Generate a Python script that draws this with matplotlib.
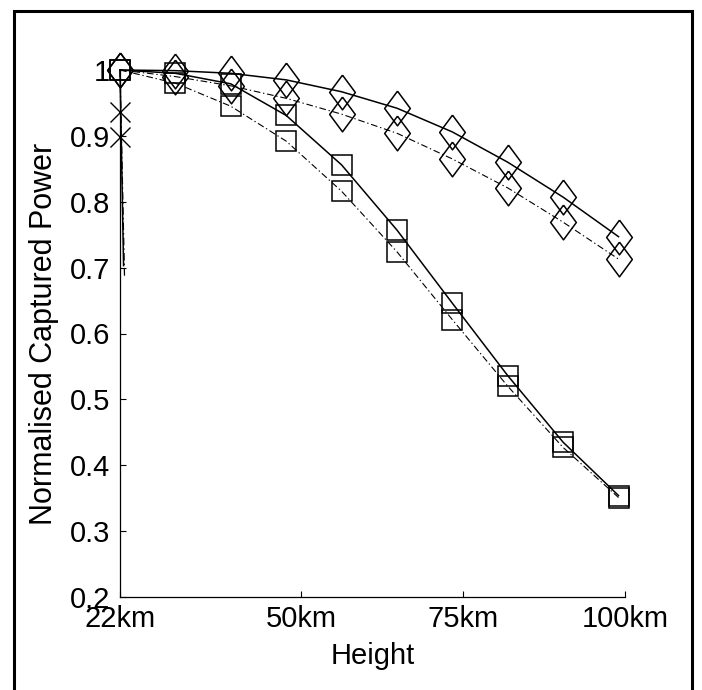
import matplotlib
matplotlib.use("Agg")
import matplotlib.pyplot as plt
from matplotlib.patches import Rectangle

plt.rcParams['font.family'] = ['Liberation Sans', 'DejaVu Sans']

# heights (km) where the markers sit
heights = [22, 30.56, 39.11, 47.67, 56.22, 64.78, 73.33, 81.89, 90.44, 99.0]

diamond_solid = [1.0, 0.999, 0.995, 0.985, 0.967, 0.942, 0.906, 0.860, 0.807, 0.747]
diamond_dashdot = [1.0, 0.990, 0.976, 0.957, 0.933, 0.904, 0.865, 0.821, 0.769, 0.713]
square_solid = [1.0, 0.995, 0.979, 0.931, 0.856, 0.757, 0.646, 0.536, 0.435, 0.354]
square_dashdot = [1.0, 0.980, 0.945, 0.892, 0.816, 0.724, 0.621, 0.520, 0.427, 0.351]

# the steep curves right at 22km
cross_heights = [22, 22]
cross_values = [0.937, 0.899]
steep_solid_x = [22, 22.55]
steep_solid_y = [1.0, 0.703]
steep_dashdot_x = [22, 22.7]
steep_dashdot_y = [1.0, 0.685]

xticks = [22, 50, 75, 100]
xtick_labels = ["22km", "50km", "75km", "100km"]
yticks = [0.2, 0.3, 0.4, 0.5, 0.6, 0.7, 0.8, 0.9, 1.0]
ytick_labels = ["0.2", "0.3", "0.4", "0.5", "0.6", "0.7", "0.8", "0.9", "1"]

# matlab style thin diamond
thin_diamond = [(0, 1), (0.74, 0), (0, -1), (-0.74, 0), (0, 1)]
dashdot = (0, (6, 2.5, 1.2, 2.5))

fig = plt.figure(figsize=(7.02, 6.90), dpi=100)
ax = fig.add_axes([120 / 702, 1 - 597 / 690, 505 / 702, 527 / 690])

common = dict(color="black", mfc="none", clip_on=False)
ax.plot(heights, diamond_solid, "-", lw=1.1, marker=thin_diamond, ms=25, mew=1.1, **common)
ax.plot(heights, diamond_dashdot, linestyle=dashdot, lw=0.8, marker=thin_diamond, ms=25, mew=1.1, **common)
ax.plot(heights, square_solid, "-", lw=1.1, marker="s", ms=15, mew=1.1, **common)
ax.plot(heights, square_dashdot, linestyle=dashdot, lw=0.8, marker="s", ms=15, mew=1.1, **common)

ax.plot(steep_solid_x, steep_solid_y, "-", color="black", lw=1.1, clip_on=False)
ax.plot(steep_dashdot_x, steep_dashdot_y, linestyle=dashdot, color="black", lw=0.9, clip_on=False)
ax.plot(cross_heights, cross_values, "x", color="black", ms=14, mew=1.0, clip_on=False)

ax.set_xlim(22, 100)
ax.set_ylim(0.2, 1.0)
ax.set_xticks(xticks)
ax.set_xticklabels(xtick_labels)
ax.set_yticks(yticks)
ax.set_yticklabels(ytick_labels)
ax.tick_params(direction="in", length=4, width=0.8, labelsize=21)
ax.tick_params(axis="x", pad=6)
ax.tick_params(axis="y", pad=7)

for side in ["top", "right"]:
    ax.spines[side].set_visible(False)
for side in ["left", "bottom"]:
    ax.spines[side].set_linewidth(0.9)

ax.set_xlabel("Height", fontsize=21, labelpad=6)
ax.set_ylabel("Normalised Captured Power", fontsize=22, labelpad=8)

# black frame around the figure (bottom edge runs off the image)
frame = Rectangle((13.5 / 702, -0.02), (692 - 13.5) / 702, 1.02 - 11.5 / 690,
                  transform=fig.transFigure, fill=False, lw=2.2, color="black", clip_on=False)
fig.patches.append(frame)

fig.savefig("out.png", dpi=100)
